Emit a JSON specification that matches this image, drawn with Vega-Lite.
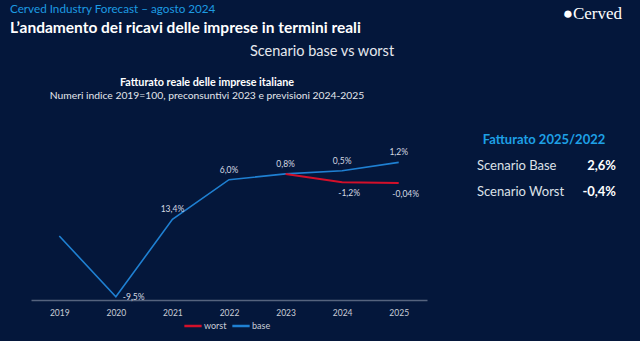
{
  "$schema": "https://vega.github.io/schema/vega-lite/v6.json",
  "background": "#04173b",
  "padding": {"left": 10, "top": 4, "right": 18, "bottom": 10},
  "config": {"view": {"stroke": null}, "font": "Lato"},
  "spacing": 50,
  "hconcat": [
    {
      "title": {
        "text": "Cerved Industry Forecast – agosto 2024",
        "subtitle": "L’andamento dei ricavi delle imprese in termini reali",
        "anchor": "start", "dx": -21,
        "color": "#1d9be2", "fontSize": 11.7, "fontWeight": "normal",
        "subtitleColor": "#ffffff", "subtitleFontSize": 15.5, "subtitleFontWeight": "bold",
        "subtitlePadding": 5, "offset": 8
      },
      "vconcat": [
        {
          "title": {"text": "Scenario base vs worst", "anchor": "middle", "dx": 93, "fontSize": 14.5, "fontWeight": "normal", "color": "#e6e8ee", "offset": 17},
          "vconcat": [
            {
              "width": 396,
              "height": 160,
              "title": {
                "text": "Fatturato reale delle imprese italiane",
                "subtitle": "Numeri indice 2019=100, preconsuntivi 2023 e previsioni 2024-2025",
                "anchor": "middle", "frame": "group", "dx": -22,
                "fontSize": 10.8, "fontWeight": "bold", "color": "#ffffff",
                "subtitleFontSize": 10.3, "subtitleColor": "#e3e6ec", "subtitlePadding": 3,
                "offset": 39
              },
              "data": {"values": [
                {"year": "2019", "scenario": "base", "index": 100, "label": ""},
                {"year": "2020", "scenario": "base", "index": 90.5, "label": "-9,5%"},
                {"year": "2021", "scenario": "base", "index": 102.6, "label": "13,4%"},
                {"year": "2022", "scenario": "base", "index": 108.8, "label": "6,0%"},
                {"year": "2023", "scenario": "base", "index": 109.7, "label": "0,8%"},
                {"year": "2024", "scenario": "base", "index": 110.2, "label": "0,5%"},
                {"year": "2025", "scenario": "base", "index": 111.5, "label": "1,2%"},
                {"year": "2023", "scenario": "worst", "index": 109.7, "label": ""},
                {"year": "2024", "scenario": "worst", "index": 108.4, "label": "-1,2%"},
                {"year": "2025", "scenario": "worst", "index": 108.3, "label": "-0,04%"}
              ]},
              "encoding": {
                "x": {"field": "year", "type": "ordinal", "scale": {"type": "point", "padding": 0.5},
                  "axis": {"title": null, "labelAngle": 0, "labelColor": "#c9cdd6", "labelFontSize": 8.5, "domainColor": "#55637e", "domainWidth": 1.5, "ticks": false, "labelPadding": 8, "grid": false}},
                "y": {"field": "index", "type": "quantitative", "scale": {"domain": [90, 115], "zero": false}, "axis": null}
              },
              "layer": [
                {
                  "transform": [{"filter": "datum.scenario === 'base'"}],
                  "mark": {"type": "line", "strokeWidth": 1.6},
                  "encoding": {"color": {"field": "scenario", "type": "nominal",
                    "scale": {"domain": ["worst", "base"], "range": ["#d3102a", "#1f80d2"]},
                    "legend": {"orient": "none", "legendX": 152, "legendY": 176, "direction": "horizontal", "title": null, "symbolType": "stroke", "symbolStrokeWidth": 2.5, "symbolSize": 300, "labelColor": "#c9cdd6", "labelFontSize": 9, "padding": 0, "columnPadding": 0, "labelOffset": 1}}}
                },
                {
                  "transform": [{"filter": "datum.scenario === 'worst'"}],
                  "mark": {"type": "line", "strokeWidth": 2},
                  "encoding": {"color": {"field": "scenario", "type": "nominal"}}
                },
                {
                  "transform": [{"filter": "datum.scenario === 'base' && datum.year !== '2020' && datum.label !== ''"}],
                  "mark": {"type": "text", "dy": -10, "fontSize": 8.5, "color": "#d5d9e2"},
                  "encoding": {"text": {"field": "label"}}
                },
                {
                  "transform": [{"filter": "datum.scenario === 'base' && datum.year === '2020'"}],
                  "mark": {"type": "text", "align": "left", "dx": 7, "dy": 0, "fontSize": 8.5, "color": "#d5d9e2"},
                  "encoding": {"text": {"field": "label"}}
                },
                {
                  "transform": [{"filter": "datum.scenario === 'worst' && datum.label !== ''"}],
                  "mark": {"type": "text", "dx": 7, "dy": 11, "fontSize": 8.5, "color": "#d5d9e2"},
                  "encoding": {"text": {"field": "label"}}
                }
              ]
            }
          ]
        }
      ]
    },
    {
      "title": {"text": "●Cerved", "anchor": "end", "font": "Liberation Serif", "fontSize": 17, "color": "#ffffff", "fontWeight": "normal", "offset": 111, "dx": 6},
      "width": 139,
      "height": 52,
      "encoding": {"y": {"field": "row", "type": "nominal", "axis": null,
        "scale": {"type": "point", "padding": 0, "domain": ["Fatturato 2025/2022", "Scenario Base", "Scenario Worst"]}}},
      "layer": [
        {
          "data": {"values": [{"row": "Fatturato 2025/2022"}]},
          "mark": {"type": "text", "align": "center", "dx": -2.5, "fontSize": 13, "fontWeight": "bold", "color": "#1ea0e6"},
          "encoding": {"text": {"field": "row"}}
        },
        {
          "data": {"values": [
            {"row": "Scenario Base", "value": "2,6%"},
            {"row": "Scenario Worst", "value": "-0,4%"}
          ]},
          "layer": [
            {"mark": {"type": "text", "align": "left", "dx": -69.5, "fontSize": 13, "color": "#dde1e8"}, "encoding": {"text": {"field": "row"}}},
            {"mark": {"type": "text", "align": "right", "dx": 69.5, "fontSize": 13, "fontWeight": "bold", "color": "#ffffff"}, "encoding": {"text": {"field": "value"}}}
          ]
        }
      ]
    }
  ]
}
